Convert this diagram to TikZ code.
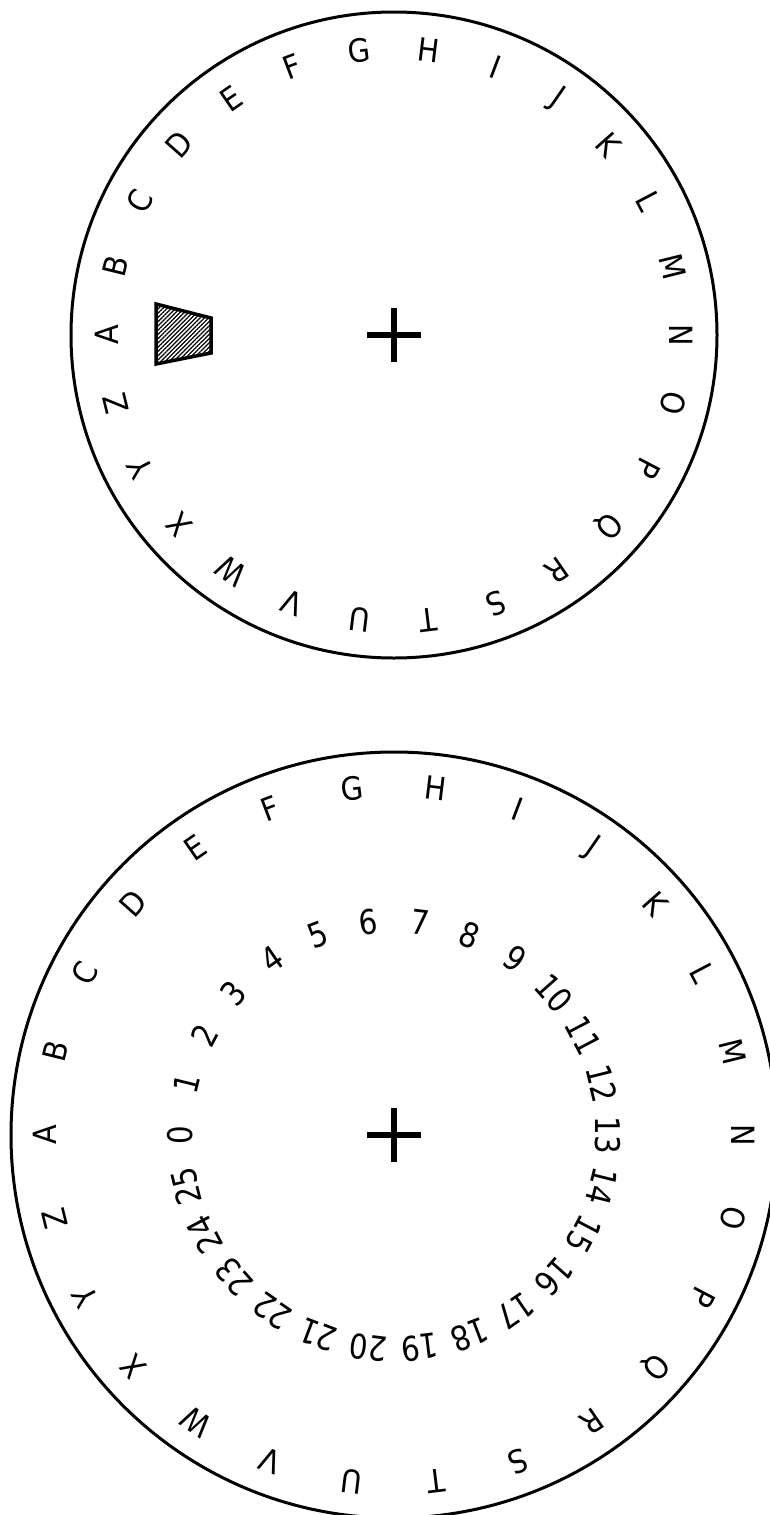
\documentclass[tikz,border=0pt]{standalone}
\usepackage{fontspec}
\setmainfont{DejaVu Sans}
\usetikzlibrary{patterns.meta}
\newcommand{\narrowtxt}[2]{\scalebox{#1}[1]{#2}}
\begin{document}
\begin{tikzpicture}[x=1pt,y=-1pt,
  disc/.style={draw=black, line width=3pt},
  letter/.style={font=\fontsize{32}{34}\selectfont, inner sep=0pt},
  number/.style={font=\fontsize{34}{36}\selectfont, inner sep=0pt},
  crossbar/.style={line width=6.5pt, line cap=butt},
  window/.style={draw=black, line width=3.5pt, line join=miter,
    fill=white, pattern={Lines[angle=45,distance=3pt,line width=1.2pt]}}]
\useasboundingbox (0,0) rectangle (770,1515);
\def\dang{13.8461538}
% top disc
\coordinate (c1) at (394,335);
\draw[disc] (c1) circle[radius=323];
\foreach \L [count=\k from 0] in {A,B,C,D,E,F,G,H,I,J,K,L,M,N,O,P,Q,R,S,T,U,V,W,X,Y,Z}{
  \pgfmathsetmacro\ang{\k*\dang-180}
  \pgfmathsetmacro\rot{90-\k*\dang}
  \node[letter, rotate=\rot] (ta\k) at ([shift={(\ang:287)}]c1) {\narrowtxt{0.9}{\L}};
}
\draw[crossbar] ([xshift=-27pt]c1) -- ([xshift=27pt]c1);
\draw[crossbar] ([yshift=-27pt]c1) -- ([yshift=27pt]c1);
\draw[window] (156,304) -- (211,318) -- (211,353) -- (156,364) -- cycle;
% bottom disc
\coordinate (c2) at (394,1135);
\draw[disc] (c2) circle[radius=383];
\foreach \L [count=\k from 0] in {A,B,C,D,E,F,G,H,I,J,K,L,M,N,O,P,Q,R,S,T,U,V,W,X,Y,Z}{
  \pgfmathsetmacro\ang{\k*\dang-180}
  \pgfmathsetmacro\rot{90-\k*\dang}
  \node[letter, rotate=\rot] (ba\k) at ([shift={(\ang:349)}]c2) {\narrowtxt{0.9}{\L}};
}
\foreach \k in {0,...,25}{
  \pgfmathsetmacro\ang{\k*\dang-180}
  \pgfmathsetmacro\rot{90-\k*\dang}
  \node[number, rotate=\rot] (bn\k) at ([shift={(\ang:214)}]c2) {\narrowtxt{0.86}{\k}};
}
\draw[crossbar] ([xshift=-27pt]c2) -- ([xshift=27pt]c2);
\draw[crossbar] ([yshift=-27pt]c2) -- ([yshift=27pt]c2);
\end{tikzpicture}
\end{document}
